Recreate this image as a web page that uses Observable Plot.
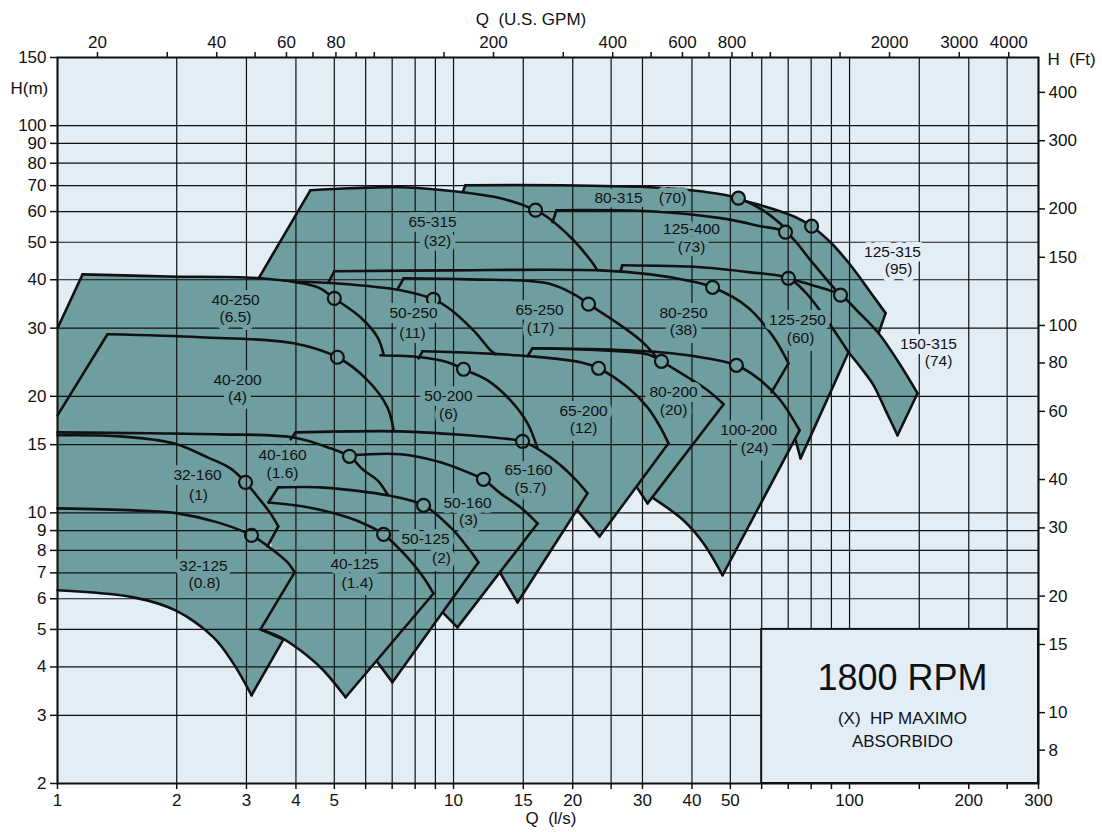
<!DOCTYPE html>
<html><head><meta charset="utf-8">
<script src="https://cdn.jsdelivr.net/npm/d3@7"></script>
<script src="https://cdn.jsdelivr.net/npm/@observablehq/plot@0.6"></script>
<style>body{margin:0;background:#fff;} svg{display:block}</style>
</head><body><div id="chart"></div>
<script>
// ---------- DATA (Q in l/s, H in m) ----------
const pumpModels = ["32-125","32-160","40-125","40-160","40-200","40-250","50-125","50-160","50-200","50-250","65-160","65-200","65-250","65-315","80-200","80-250","80-315","100-200","125-250","125-315","125-400","150-315"];
const pumpHP = ["(0.8)","(1)","(1.4)","(1.6)","(4)","(6.5)","(2)","(3)","(6)","(11)","(5.7)","(12)","(17)","(32)","(20)","(38)","(70)","(24)","(60)","(95)","(73)","(74)"];
const bepQ = [3.09,2.984,6.66,5.46,5.09,5.0,8.40,11.9,10.6,8.90,14.94,23.24,21.92,16.11,33.5,45.1,52.4,51.8,70.1,80.2,68.9,94.9];
const bepH = [8.75,11.99,8.80,14.0,25.23,35.82,10.46,12.21,23.49,35.6,15.30,23.63,34.6,60.5,24.63,38.25,64.96,24.05,40.35,55.0,53.1,36.5];

const leftEdges = [
  [],[],[],[],
  [[1,17.86],[1.337,28.92]],
  [[1,29.97],[1.157,41.3]],
  [[3.41,10.64],[3.61,11.64]],
  [],[],[],
  [[3.88,15.49],[3.99,16.14]],
  [[8.16,25.07],[8.35,26.14]],
  [[7.22,37.8],[7.48,40.35]],
  [[3.22,40.35],[4.35,68.1]],
  [[15.38,25.38],[15.83,26.61]],
  [[4.83,39.4],[5.0,42.07]],
  [[10.54,67.3],[10.72,70.2]],
  [],
  [[26.4,42.07],[26.7,43.6]],
  [],
  [[17.78,56.3],[18.2,60.5]],
  []
];
const topCurves = [
  [[1,10.27],[1.556,10.15],[2.01,9.97],[2.536,9.45],[3.09,8.75],[3.51,8.0],[3.81,7.45],[3.97,7.02]],
  [[1,15.86],[1.443,15.76],[1.963,15.12],[2.392,13.91],[2.734,13.03],[2.984,11.99],[3.255,10.77],[3.45,9.97],[3.61,9.23]],
  [[3.41,10.64],[4.18,10.39],[5.40,9.74],[6.07,9.28],[6.66,8.80],[7.65,7.67],[8.40,6.81],[8.90,6.19]],
  [[1,16.14],[1.718,16.05],[2.58,15.95],[3.92,15.67],[4.89,14.68],[5.46,14.0],[5.93,12.88],[6.43,12.13],[6.81,11.16]],
  [[1.337,28.92],[2.297,28.41],[3.945,27.42],[5.09,25.23],[6.07,22.0],[6.81,18.73],[7.06,16.33]],
  [[1.157,41.3],[1.896,40.8],[3.255,40.35],[4.54,38.25],[5.0,35.82],[5.82,32.0],[6.43,28.41],[6.66,25.67]],
  [[3.61,11.64],[4.62,11.64],[5.59,11.43],[6.81,11.10],[8.40,10.46],[9.83,9.17],[10.85,8.15],[11.56,7.45]],
  [[5.46,14.08],[7.35,14.17],[9.27,13.51],[10.85,12.73],[11.9,12.21],[13.14,11.23],[14.77,10.33],[16.30,9.39]],
  [[6.54,25.53],[8.26,25.23],[9.66,24.49],[10.6,23.49],[12.19,22.0],[13.93,19.53],[15.38,17.03],[16.3,14.68]],
  [[3.88,39.65],[5.0,39.17],[7.35,37.58],[8.90,35.6],[9.66,33.98],[11.23,29.6],[12.4,26.3],[12.77,25.67]],
  [[3.99,16.14],[7.35,16.24],[10.85,15.86],[13.14,15.58],[14.94,15.30],[17.58,13.91],[20.09,12.35],[21.79,11.23]],
  [[8.35,26.14],[11.7,25.83],[15.64,25.38],[20.93,24.49],[23.24,23.63],[27.5,21.1],[30.9,18.73],[33.3,16.63],[34.9,15.12]],
  [[7.48,40.35],[11.04,40.1],[17.28,39.17],[20.33,36.5],[21.92,34.6],[25.35,31.4],[29.66,27.9],[32.4,25.38]],
  [[4.35,68.1],[5.495,68.9],[7.35,69.35],[10.6,67.3],[13.14,64.96],[16.11,60.5],[17.28,58.0],[20.09,50.6],[22.18,44.9],[23.1,42.3]],
  [[15.83,26.61],[23.5,26.3],[30.9,25.67],[33.5,24.63],[39.0,22.4],[43.8,20.73],[48.1,19.07]],
  [[5.0,42.07],[9.83,42.3],[23.5,42.3],[31.4,41.3],[39.7,39.65],[45.1,38.25],[55.3,33.98],[64.3,28.41],[70.1,24.34]],
  [[10.72,70.2],[18.63,70.2],[31.4,69.35],[42.05,67.7],[52.4,64.96],[61.4,59.8],[71.0,52.8]],
  [[15.83,26.61],[23.5,26.45],[33.3,25.99],[42.05,25.23],[51.8,24.05],[59.6,22.0],[66.9,19.53],[74.8,16.33]],
  [[26.7,43.6],[42.05,43.1],[56.2,41.8],[70.1,40.35],[77.4,37.1],[87.0,31.8],[99.4,25.99]],
  [[53.7,64.2],[63.2,61.2],[73.1,58.0],[80.2,55.0],[89.5,50.0],[100.6,43.6],[113.0,37.1],[123.3,32.8]],
  [[18.2,60.5],[31.4,60.1],[47.2,57.7],[59.6,55.0],[68.9,53.1],[79.7,44.9],[87.0,40.35],[94.3,36.7]],
  [[70.1,40.35],[80.6,38.7],[94.9,36.5],[105.4,32.97],[118.4,29.1],[133.0,24.49],[148.5,20.36]]
];
const rightEdges = [
  [[3.97,7.02],[3.255,5.0],[3.72,4.71],[3.09,3.38]],
  [[3.61,9.23],[3.39,8.19]],
  [[8.90,6.19],[5.34,3.34]],
  [],[],[],
  [[11.56,7.45],[7.01,3.65]],
  [[16.30,9.39],[10.23,5.06]],
  [],[],
  [[21.79,11.23],[14.51,5.87]],
  [[34.9,15.12],[23.37,8.69]],
  [],[],
  [[48.1,19.07],[30.9,10.58]],
  [[70.1,24.34],[63.5,20.47]],
  [],
  [[74.8,16.33],[47.8,6.90]],
  [[99.4,25.99],[75.2,13.83]],
  [[123.3,32.8],[118.4,29.1]],
  [],
  [[148.5,20.36],[132.2,15.86]]
];
const bottomCurves = [
  [[3.09,3.38],[2.782,4.08],[2.477,4.77],[1.986,5.6],[1.556,6.05],[1,6.31]],
  [],
  [[5.34,3.34],[4.67,3.94],[4.11,4.41],[3.66,4.77],[3.255,5.0]],
  [],[],[],
  [[7.01,3.65],[6.43,4.11]],
  [[10.23,5.06],[9.44,5.5]],
  [],[],
  [[14.51,5.87],[13.14,6.98]],
  [[23.37,8.69],[20.56,10.15]],
  [],[],
  [[30.9,10.58],[29.15,11.57]],
  [],[],
  [[47.8,6.90],[42.8,8.34],[38.1,9.56],[32.0,10.9]],
  [[75.2,13.83],[73.1,15.4]],
  [],[],
  [[132.2,15.86],[123.3,18.4],[115.0,21.35],[106.6,23.77],[99.4,25.99]]
];
const hiddenEdges = [
  [],
  [[3.07,7.1],[1,7.5]],
  [[3.97,7.02],[3.5,7.9],[3.41,9.0]],
  [[6.93,9.56],[4.1,8.49],[1,8.49]],
  [[7.06,15.6],[1.7,15.6],[1,15.9]],
  [[6.07,22.0],[1,17.86]],
  [[5.18,5.94],[3.88,8.49]],
  [[7.35,7.54],[4.89,12.88]],
  [[11.7,12.88],[7.06,16.33],[6.07,22.0]],
  [[9.28,25.0],[6.66,25.8],[4.1,35.3]],
  [[9.83,9.0],[4.1,12.88]],
  [[18.63,11.43],[15.64,14.7]],
  [[23.5,24.8],[15.4,25.2],[12.77,25.6],[9.83,27.9]],
  [[5.0,42.07],[4.83,39.4]],
  [[26.4,12.88],[18.63,22.0]],
  [[42.0,22.0],[13.14,29.6],[4.9,38.6]],
  [[82.1,44.4],[50,45],[17.78,56.3]],
  [[28,14],[20,25]],
  [[66.9,18.0],[31.4,35.4]],
  [[75.2,35.4],[53.7,53.7]],
  [[80,36],[23.5,42.3],[21,44],[19,49],[17.5,56]],
  [[71.6,29.6]]
];
const nameQ = [2.337,2.257,5.623,3.70,2.848,2.815,8.50,10.85,9.71,7.925,15.47,21.30,16.49,8.85,35.94,38.09,26.10,55.6,73.9,128.4,39.9,158.3];
const nameH = [7.27,12.50,7.36,14.08,22.0,35.4,8.54,10.58,20.0,32.78,12.88,18.29,33.36,56.3,20.47,32.78,64.96,16.33,31.44,47.1,54.0,27.25];
const hpQ = [2.351,2.270,5.722,3.70,2.848,2.815,9.326,10.91,9.71,7.88,15.64,21.30,16.59,9.11,35.94,38.09,35.73,57.56,75.2,133.0,39.9,167.8];
const hpH = [6.57,11.10,6.57,12.65,19.88,32.0,7.63,9.56,17.96,29.1,11.57,16.54,29.97,50.3,18.4,29.6,64.96,14.68,28.24,42.6,48.5,24.62];
const outsideLabels = ["125-315","150-315"];

const xGrid = [1,2,3,4,5,6,7,8,9,10,15,20,25,30,40,50,60,70,80,90,100,150,200,250,300];
const xLabels = [1,2,3,4,5,6,7,8,9,10,15,20,30,40,50,60,80,100,200,300];
const yGrid = [2,3,4,5,6,7,8,9,10,15,20,30,40,50,60,70,80,90,100,150];
const gpmTicks = [20,30,40,50,60,70,80,90,100,150,200,300,400,500,600,700,800,900,1000,1500,2000,3000,4000];
const gpmLabels = [20,40,60,80,100,200,400,600,800,1000,2000,3000,4000];
const ftTicks = [8,10,15,20,30,40,60,80,100,150,200,300,400];
const GPM_PER_LPS = 15.8503;
const FT_PER_M = 3.28084;

const boxQ = [60, 300];
const boxH = [2, 5];
const rpmTitle = "1800 RPM";
const rpmNotes = ["(X)\u00a0\u00a0HP MAXIMO", "ABSORBIDO"];
const rpmTextQ = 136;
const rpmTitleH = 3.73;
const rpmNotesH = [2.94, 2.57];

// ---------- BUILD ----------
const teal = "#6f9ea0", paper = "#e3edf5", ink = "#111";
const fillRows = [], curveRows = [], edgeRows = [], bepRows = [], labIn = [], labOut = [];
pumpModels.forEach((name, i) => {
  const poly = [...leftEdges[i], ...topCurves[i], ...rightEdges[i], ...bottomCurves[i], ...hiddenEdges[i]];
  poly.forEach(([q, h]) => fillRows.push({id: name, q, h}));
  leftEdges[i].forEach(([q, h]) => edgeRows.push({id: name + "L", q, h}));
  rightEdges[i].forEach(([q, h]) => edgeRows.push({id: name + "R", q, h}));
  topCurves[i].forEach(([q, h]) => curveRows.push({id: name + "T", q, h}));
  bottomCurves[i].forEach(([q, h]) => curveRows.push({id: name + "B", q, h}));
  bepRows.push({q: bepQ[i], h: bepH[i]});
  const target = outsideLabels.includes(name) ? labOut : labIn;
  target.push({q: nameQ[i], h: nameH[i], t: name});
  target.push({q: hpQ[i], h: hpH[i], t: pumpHP[i]});
});

const labelOpts = (halo) => ({x: "q", y: "h", text: "t", fontSize: 15.5, fill: ink, stroke: halo, strokeWidth: 10, strokeLinejoin: "round", paintOrder: "stroke", lineAnchor: "middle"});

const chart = Plot.plot({
  width: 1102, height: 832,
  marginLeft: 57, marginRight: 64, marginTop: 57, marginBottom: 49,
  x: {type: "log", domain: [1, 300]},
  y: {type: "log", domain: [2, 150]},
  style: {fontFamily: "'Liberation Sans', Arial, sans-serif", fontSize: "17px", color: ink, background: "#fff"},
  marks: [
    Plot.frame({fill: paper, stroke: "none"}),
    Plot.line(fillRows, {x: "q", y: "h", z: "id", fill: teal, stroke: "none", curve: "linear"}),
    Plot.line(curveRows, {x: "q", y: "h", z: "id", curve: "catmull-rom", stroke: ink, strokeWidth: 2.6, strokeLinecap: "round", strokeLinejoin: "round"}),
    Plot.line(edgeRows, {x: "q", y: "h", z: "id", curve: "linear", stroke: ink, strokeWidth: 2.6, strokeLinecap: "round", strokeLinejoin: "round"}),
    Plot.dot(bepRows, {x: "q", y: "h", r: 6.5, fill: teal, stroke: ink, strokeWidth: 2.2}),
    Plot.ruleX(xGrid, {stroke: ink, strokeWidth: 1.2}),
    Plot.ruleY(yGrid, {stroke: ink, strokeWidth: 1.2}),
    Plot.rect([{q1: boxQ[0], q2: boxQ[1], h1: boxH[0], h2: boxH[1]}], {x1: "q1", x2: "q2", y1: "h1", y2: "h2", fill: paper, stroke: ink, strokeWidth: 2}),
    Plot.text([rpmTitle], {x: () => rpmTextQ, y: () => rpmTitleH, text: d => d, fontSize: 36, fill: ink, lineAnchor: "middle"}),
    Plot.text(rpmNotes, {x: () => rpmTextQ, y: (d, i) => rpmNotesH[i], text: d => d, fontSize: 17, fill: ink, lineAnchor: "middle"}),
    Plot.text(labIn, labelOpts(teal)),
    Plot.text(labOut, labelOpts(paper)),
    Plot.axisX(xGrid, {anchor: "bottom", tickSize: 6, tickPadding: 4, strokeWidth: 1.5, label: null,
      tickFormat: d => xLabels.includes(d) ? String(d) : ""}),
    Plot.axisX(gpmTicks.map(g => g / GPM_PER_LPS), {anchor: "top", tickSize: 6, tickPadding: 4, strokeWidth: 1.5, label: null,
      tickFormat: d => { const g = Math.round(d * GPM_PER_LPS); return gpmLabels.includes(g) ? String(g) : ""; }}),
    Plot.axisY(yGrid, {anchor: "left", tickSize: 7, tickPadding: 4, strokeWidth: 1.5, label: null, tickFormat: d => String(d)}),
    Plot.axisY(ftTicks.map(f => f / FT_PER_M), {anchor: "right", tickSize: 6, tickPadding: 4, strokeWidth: 1.5, label: null,
      tickFormat: d => String(Math.round(d * FT_PER_M))}),
    Plot.frame({stroke: ink, strokeWidth: 2}),
    Plot.text(["Q\u00a0\u00a0(U.S. GPM)"], {text: d => d, frameAnchor: "top", dx: -17, dy: -38, lineAnchor: "middle", fontSize: 17, fill: ink}),
    Plot.text(["Q\u00a0\u00a0(l/s)"], {text: d => d, frameAnchor: "bottom", dx: 3, dy: 35, lineAnchor: "middle", fontSize: 17, fill: ink}),
    Plot.text(["H(m)"], {text: d => d, frameAnchor: "top-left", textAnchor: "start", dx: -47, dy: 31, lineAnchor: "middle", fontSize: 17, fill: ink}),
    Plot.text(["H\u00a0\u00a0(Ft)"], {text: d => d, frameAnchor: "top-right", textAnchor: "start", dx: 9, dy: 2, lineAnchor: "middle", fontSize: 17, fill: ink})
  ]
});
document.getElementById("chart").appendChild(chart);
</script></body></html>
